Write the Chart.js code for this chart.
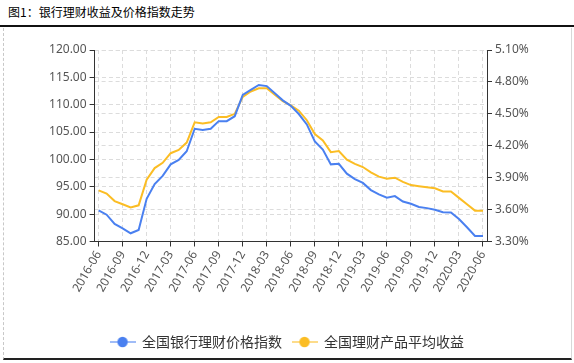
<!DOCTYPE html>
<html>
<head>
<meta charset="utf-8">
<script src="https://cdn.jsdelivr.net/npm/chart.js@4.4.0/dist/chart.umd.min.js"></script>
<style>
html, body { margin: 0; padding: 0; background: #fff; }
#wrap { position: relative; width: 574px; height: 363px; overflow: hidden; }
#title { position: absolute; left: 8px; top: 3px; font: 12px "Noto Sans CJK SC"; color: #000; line-height: 18px; }
#rule { position: absolute; left: 0; top: 25px; width: 574px; height: 2px; background: #111; }
#box { position: absolute; left: 3px; top: 28px; width: 567px; height: 330px;
       border-left: 1px dashed #c8c8c8; border-right: 1px solid #d8d8d8; border-bottom: 2px solid #222; }
#chart { position: absolute; left: 0; top: 0; }
</style>
</head>
<body>
<div id="wrap">
  <div id="title">图1：银行理财收益及价格指数走势</div>
  <div id="rule"></div>
  <div id="box"></div>
  <canvas id="chart" width="574" height="363"></canvas>
</div>
<script>
// monthly, 2016-06 .. 2020-06
const months = [
  '2016-06','2016-07','2016-08','2016-09','2016-10','2016-11','2016-12',
  '2017-01','2017-02','2017-03','2017-04','2017-05','2017-06','2017-07','2017-08','2017-09','2017-10','2017-11','2017-12',
  '2018-01','2018-02','2018-03','2018-04','2018-05','2018-06','2018-07','2018-08','2018-09','2018-10','2018-11','2018-12',
  '2019-01','2019-02','2019-03','2019-04','2019-05','2019-06','2019-07','2019-08','2019-09','2019-10','2019-11','2019-12',
  '2020-01','2020-02','2020-03','2020-04','2020-05','2020-06'
];

// 全国银行理财价格指数 (left axis)
const priceIndex = [
  90.7, 89.9, 88.2, 87.4, 86.5, 87.1,
  92.8, 95.5, 97.0, 99.1, 99.9, 101.5,
  105.6, 105.4, 105.6, 107.0, 107.0, 107.9,
  111.8, 112.7, 113.6, 113.4, 112.1, 110.8,
  109.8, 108.3, 106.4, 103.3, 101.8, 99.1,
  99.2, 97.4, 96.4, 95.7, 94.4, 93.6,
  93.0, 93.3, 92.3, 91.9, 91.3, 91.1,
  90.8, 90.35, 90.3, 89.1, 87.6, 86.0, 86.0
];

// 全国理财产品平均收益, % (right axis)
const avgYield = [
  3.78, 3.75, 3.68, 3.65, 3.62, 3.64,
  3.88, 3.99, 4.04, 4.13, 4.16, 4.23,
  4.42, 4.41, 4.42, 4.47, 4.47, 4.50,
  4.66, 4.71, 4.74, 4.74, 4.68, 4.62,
  4.58, 4.53, 4.44, 4.31, 4.25, 4.14,
  4.15, 4.07, 4.03, 4.00, 3.95, 3.91,
  3.89, 3.90, 3.86, 3.83, 3.82, 3.81,
  3.80, 3.77, 3.77, 3.71, 3.65, 3.59, 3.59
];

const seriesNames = ['全国银行理财价格指数', '全国理财产品平均收益'];
const leftRange = [85, 120, 5];
const rightRange = [3.3, 5.1, 0.3];

const blue = '#4a80f0';
const yellow = '#fbbd24';

// legend icon: short line with a dot in the middle
function legendIcon(color) {
  const c = document.createElement('canvas');
  c.width = 26; c.height = 12;
  const g = c.getContext('2d');
  g.strokeStyle = color; g.globalAlpha = 0.7; g.lineWidth = 1.5;
  g.beginPath(); g.moveTo(0, 6); g.lineTo(26, 6); g.stroke();
  g.globalAlpha = 1; g.fillStyle = color;
  g.beginPath(); g.arc(13, 6, 5.2, 0, Math.PI * 2); g.fill();
  return c;
}
const icons = [legendIcon(blue), legendIcon(yellow)];

Chart.defaults.font.family = '"Noto Sans", sans-serif';
Chart.defaults.font.size = 12;
Chart.defaults.color = '#555';

const gridColor = '#dcdcdc';
const every3 = ctx => (ctx.index % 3 === 0 ? gridColor : 'transparent');
const tick3 = ctx => (ctx.index % 3 === 0 ? '#333' : 'transparent');

new Chart(document.getElementById('chart'), {
  type: 'line',
  data: {
    labels: months,
    datasets: [{
      label: seriesNames[0],
      data: priceIndex,
      yAxisID: 'y',
      borderColor: blue,
      backgroundColor: blue,
      borderWidth: 2,
      pointRadius: 0,
      tension: 0
    }, {
      label: seriesNames[1],
      data: avgYield,
      yAxisID: 'y1',
      borderColor: yellow,
      backgroundColor: yellow,
      borderWidth: 2,
      pointRadius: 0,
      tension: 0
    }]
  },
  options: {
    responsive: false,
    animation: false,
    layout: { padding: { top: 50, left: 0, right: 0, bottom: 4 } },
    plugins: {
      tooltip: { enabled: false },
      legend: {
        position: 'bottom',
        labels: {
          usePointStyle: true,
          pointStyleWidth: 25,
          padding: 10,
          color: '#333',
          font: { family: '"Noto Sans CJK SC"', size: 14 },
          generateLabels: function (chart) {
            const items = Chart.defaults.plugins.legend.labels.generateLabels(chart);
            items.forEach((it, i) => { it.pointStyle = icons[i]; });
            return items;
          }
        }
      }
    },
    scales: {
      x: {
        offset: true,
        grid: { offset: false, color: every3, tickColor: tick3, tickLength: 5 },
        border: { color: '#333', dash: [4, 3] },
        ticks: {
          autoSkip: false,
          maxRotation: 60,
          minRotation: 60,
          padding: 2,
          callback: function (v, i) { return i % 3 === 0 ? this.getLabelForValue(v) : ''; }
        },
        afterFit: s => { s.height = 83.5; }
      },
      y: {
        position: 'left',
        min: leftRange[0], max: leftRange[1],
        grid: { color: gridColor, tickColor: '#333', tickLength: 5 },
        border: { color: '#333', dash: [4, 3] },
        ticks: { stepSize: leftRange[2], padding: 3, callback: v => v.toFixed(2) },
        afterFit: s => { s.width = 94.6; }
      },
      y1: {
        position: 'right',
        min: rightRange[0], max: rightRange[1],
        grid: { color: gridColor, tickColor: '#333', tickLength: 5 },
        border: { color: '#333', dash: [4, 3] },
        ticks: { stepSize: rightRange[2], padding: 3, callback: v => v.toFixed(2) + '%' },
        afterFit: s => { s.width = 574 - 487; }
      }
    }
  }
});
</script>
</body>
</html>
